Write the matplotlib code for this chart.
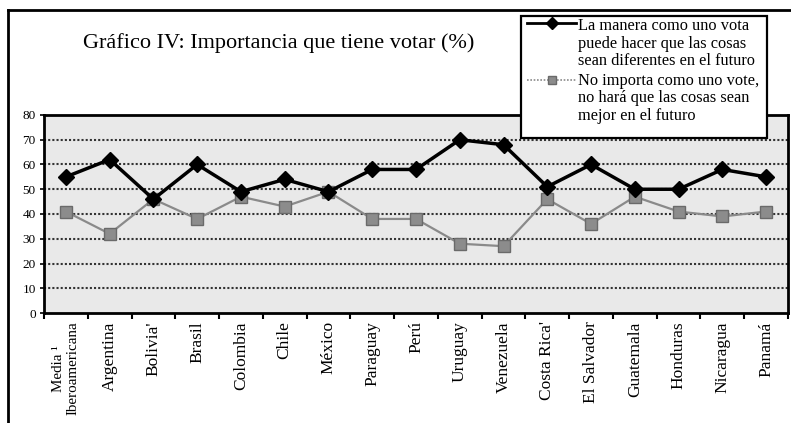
import matplotlib
matplotlib.use("Agg")
import matplotlib.pyplot as plt
from matplotlib.lines import Line2D
from matplotlib.patches import Rectangle
import numpy as np

categories = ["Media ¹\nIberoamericana", "Argentina", "Bolivia'", "Brasil", "Colombia",
              "Chile", "México", "Paraguay", "Perú", "Uruguay", "Venezuela",
              "Costa Rica'", "El Salvador", "Guatemala", "Honduras", "Nicaragua", "Panamá"]
diferente = [55, 62, 46, 60, 49, 54, 49, 58, 58, 70, 68, 51, 60, 50, 50, 58, 55]
no_importa = [41, 32, 46, 38, 47, 43, 49, 38, 38, 28, 27, 46, 36, 47, 41, 39, 41]
label1 = "La manera como uno vota\npuede hacer que las cosas\nsean diferentes en el futuro"
label2 = "No importa como uno vote,\nno hará que las cosas sean\nmejor en el futuro"
title = "Gráfico IV: Importancia que tiene votar (%)"
yticks = [0, 10, 20, 30, 40, 50, 60, 70, 80]

plt.rcParams['font.family'] = ['Liberation Serif', 'DejaVu Serif']

W, H = 791, 423
fig = plt.figure(figsize=(W / 100, H / 100), dpi=100)
fig.patch.set_facecolor("white")

def fx(px):
    return px / W

def fy(py):
    return 1 - py / H

ax = fig.add_axes([fx(44), fy(313), (788 - 44) / W, (313 - 115) / H])
ax.set_facecolor("#e9e9e9")

x = np.arange(len(categories))
ax.plot(x, no_importa, color="#8a8a8a", lw=1.6, marker="s", ms=8,
        mfc="#8c8c8c", mec="#6a6a6a", zorder=3)
ax.plot(x, diferente, color="black", lw=2.5, marker="D", ms=8.5,
        mfc="black", mec="black", zorder=4)

ax.set_xlim(-0.5, len(categories) - 0.5)
ax.set_ylim(0, 80)
ax.set_yticks(yticks)
ax.set_yticklabels([str(v) for v in yticks], fontsize=9.5)
for v in yticks[1:-1]:
    ax.axhline(v, color="#333333", lw=1.5, ls=(0, (1, 1)), zorder=1)

ax.set_xticks(x)
ax.set_xticklabels(categories, rotation=90, fontsize=12.5, multialignment="center")
ax.get_xticklabels()[0].set_fontsize(10.8)
ax.set_xticks(np.arange(len(categories) + 1) - 0.5, minor=True)
ax.tick_params(axis="x", which="major", length=0, pad=6)
ax.tick_params(axis="x", which="minor", length=4, width=1.5, direction="out")
ax.tick_params(axis="y", length=3, width=1.2, direction="out", pad=3)

for s in ax.spines.values():
    s.set_linewidth(2)
    s.set_color("black")

# outer frame
fig.add_artist(Line2D([fx(8), fx(8)], [0.0, fy(10)], color="black", lw=2))
fig.add_artist(Line2D([fx(8), 1], [fy(10), fy(10)], color="black", lw=2))

fig.text(fx(83), fy(43), title, fontsize=16, va="center", ha="left")

# legend box drawn in figure coordinates
box = Rectangle((fx(521), fy(138)), fx(767) - fx(521), fy(16) - fy(138),
                transform=fig.transFigure, facecolor="white", edgecolor="black",
                lw=1.6, zorder=20)
fig.add_artist(box)
baselines = [30, 47.5, 65, 85, 102.5, 120]
labels = label1.split("\n") + label2.split("\n")
for yy, txt in zip(baselines, labels):
    t = fig.text(fx(578), fy(yy), txt, fontsize=11.8, va="baseline", ha="left")
    t.set_zorder(21)
l1 = Line2D([fx(527), fx(576)], [fy(23), fy(23)], color="black", lw=2,
            transform=fig.transFigure, zorder=21)
m1 = Line2D([fx(552)], [fy(23)], color="black", marker="D", ms=6.5,
            transform=fig.transFigure, zorder=22)
l2 = Line2D([fx(527), fx(576)], [fy(80), fy(80)], color="#8a8a8a", lw=1.2,
            ls=(0, (1, 1)), transform=fig.transFigure, zorder=21)
m2 = Line2D([fx(552)], [fy(80)], marker="s", ms=5.5, mfc="#8c8c8c", mec="#6a6a6a",
            transform=fig.transFigure, zorder=22)
for a in (l1, m1, l2, m2):
    fig.add_artist(a)

fig.savefig("out.png", dpi=100)
